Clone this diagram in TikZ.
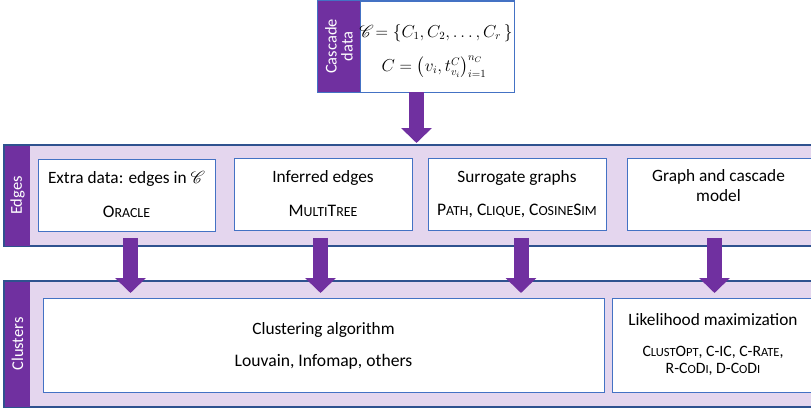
\documentclass[tikz,border=0pt]{standalone}
\usepackage{amsmath}
\usepackage{mathrsfs}
\usepackage{fontspec}
\setmainfont{Carlito}
\usetikzlibrary{arrows.meta}
\definecolor{vio}{HTML}{7030A0}
\definecolor{lav}{HTML}{E4D6EE}
\definecolor{dblue}{HTML}{2F528F}
\definecolor{mblue}{HTML}{4472C4}
\newcommand\myfontone{\fontsize{17.3}{21}\selectfont}
\newcommand\myfonttwo{\fontsize{17.6}{21}\selectfont}
\newcommand\myfontthree{\fontsize{15.8}{19}\selectfont}
\newcommand\myfontlab{\fontsize{16.5}{19}\selectfont}
\newcommand\mysk[1]{{\fontsize{13.9}{16}\selectfont #1}}
\newcommand\mysks[1]{{\fontsize{12.5}{15}\selectfont #1}}
\begin{document}
\begin{tikzpicture}[x=1pt,y=-1pt,
  band/.style={draw=dblue,line width=1.1pt,fill=lav,inner sep=0pt},
  strip/.style={fill=vio,inner sep=0pt},
  ibox/.style={draw=mblue,line width=0.9pt,fill=white,inner sep=0pt,align=center},
  lab/.style={white,rotate=90,align=center,font=\myfontlab},
  tone/.style={font=\myfontone,align=center},
  ttwo/.style={font=\myfonttwo,align=center},
  tthree/.style={font=\myfontthree,align=center},
  bigarrow/.style={draw=vio,line width=15pt,-{Triangle[width=30pt,length=15pt]},color=vio}]
\useasboundingbox (0,0) rectangle (811,410);
\clip (0,0) rectangle (811,410);
% cascade
\node[strip,minimum width=42pt,minimum height=91pt] (cascl) at (339,46.5) {};
\node[ibox,minimum width=154pt,minimum height=91pt] (casc) at (437,46.5) {};
\draw[mblue,line width=0.9pt] (cascl.north west) rectangle (casc.south east);
\node[lab] at (cascl) {Cascade\\[-3pt]data};
\node (m1) at (436,33) {\fontsize{16}{19}\selectfont$\mathscr{C}\!=\{C_1,C_2,\dots,C_r\,\}$};
\node (m2) at (434,67) {\fontsize{16}{19}\selectfont$C=\bigl(v_i,t^{C}_{v_i}\bigr)^{n_C}_{i=1}$};
% edges band
\node[band,minimum width=812pt,minimum height=101pt] (edges) at (410,195.5) {};
\node[strip,minimum width=25pt,minimum height=100pt] (edl) at (17.5,195.5) {};
\node[lab] at (edl) {Edges};
\node[ibox,minimum width=177pt,minimum height=72pt] (e1) at (126.5,195) {};
\node[ibox,minimum width=178pt,minimum height=72pt] (e2) at (323,194.5) {};
\node[ibox,minimum width=178pt,minimum height=72pt] (e3) at (517,194.5) {};
\node[ibox,minimum width=184pt,minimum height=72pt] (e4) at (719,194.5) {};
\node[tone] (t1a) at (126.5,179) {Extra data: edges in $\mathscr{C}$};
\node[ttwo] (t1b) at (126.5,212) {O\mysk{RACLE}};
\node[tone] (t2a) at (323,178) {Inferred edges};
\node[ttwo] (t2b) at (323,211) {M\mysk{ULTI}T\mysk{REE}};
\node[tone] (t3a) at (517,178) {Surrogate graphs};
\node[ttwo] (t3b) at (517,211) {P\mysk{ATH}, C\mysk{LIQUE}, C\mysk{OSINE}S\mysk{IM}};
\node[tone] (t4a) at (718.5,186) {Graph and cascade\\[-1pt]model};
% clusters band
\node[band,minimum width=812pt,minimum height=126pt] (clus) at (410,344) {};
\node[strip,minimum width=25pt,minimum height=125pt] (cll) at (17.5,344) {};
\node[lab] at (cll) {Clusters};
\node[ibox,minimum width=561pt,minimum height=94pt] (c1) at (323.5,345) {};
\node[ibox,minimum width=203pt,minimum height=94pt] (c2) at (713.5,345) {};
\node[tone] (c1a) at (323.5,330) {Clustering algorithm};
\node[ttwo] (c1b) at (323.5,362) {Louvain, Infomap, others};
\node[tone] (c2a) at (713,320) {Likelihood maximization};
\node[tthree] (c2b) at (713,361) {C\mysks{LUST}O\mysks{PT}, C-IC, C-R\mysks{ATE},\\[-2pt]R-C\mysks{O}D\mysks{I}, D-C\mysks{O}D\mysks{I}};
% arrows
\coordinate (a0) at (416.5,143);
\coordinate (a1) at (130.5,293);
\coordinate (a2) at (320.5,293);
\coordinate (a3) at (521,293);
\coordinate (a4) at (714.5,293);
\draw[bigarrow] (casc.south -| a0) -- (a0);
\draw[bigarrow,shorten <=7pt] (e1.south -| a1) -- (a1);
\draw[bigarrow,shorten <=7pt] (e2.south -| a2) -- (a2);
\draw[bigarrow,shorten <=7pt] (e3.south -| a3) -- (a3);
\draw[bigarrow,shorten <=7pt] (e4.south -| a4) -- (a4);
\end{tikzpicture}
\end{document}
